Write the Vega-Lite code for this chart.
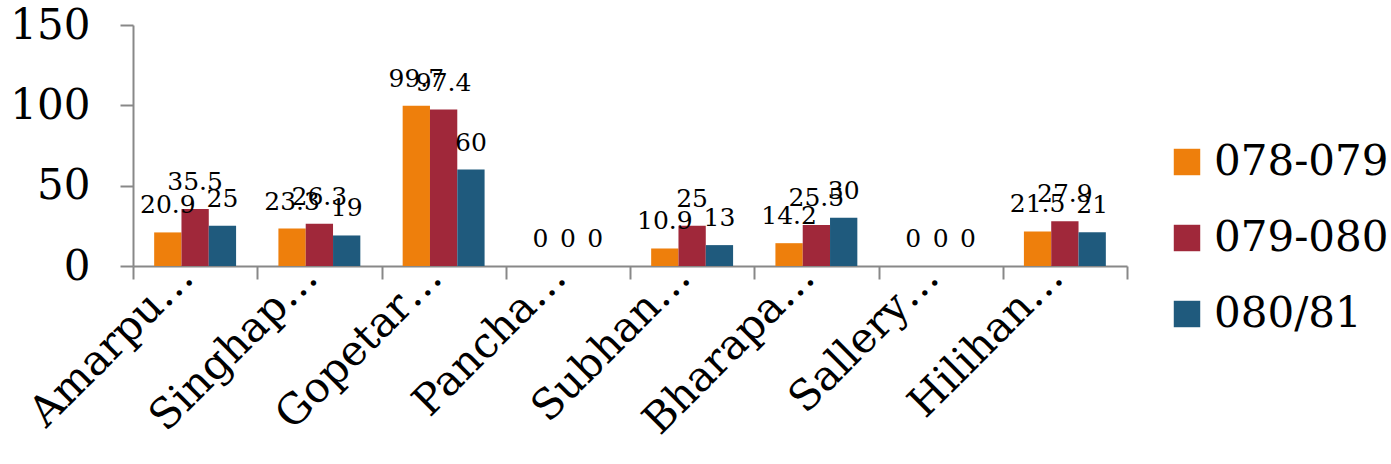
{
  "$schema": "https://vega.github.io/schema/vega-lite/v6.json",
  "autosize": "none",
  "width": 994,
  "height": 241,
  "padding": {"left": 133, "top": 25, "right": 264, "bottom": 198},
  "background": "white",
  "config": {
    "view": {"stroke": null},
    "font": "DejaVu Serif"
  },
  "data": {
    "values": [
      {"place": "Amarpu…", "year": "078-079", "value": 20.9},
      {"place": "Amarpu…", "year": "079-080", "value": 35.5},
      {"place": "Amarpu…", "year": "080/81", "value": 25},
      {"place": "Singhap…", "year": "078-079", "value": 23.3},
      {"place": "Singhap…", "year": "079-080", "value": 26.3},
      {"place": "Singhap…", "year": "080/81", "value": 19},
      {"place": "Gopetar…", "year": "078-079", "value": 99.7},
      {"place": "Gopetar…", "year": "079-080", "value": 97.4},
      {"place": "Gopetar…", "year": "080/81", "value": 60},
      {"place": "Pancha…", "year": "078-079", "value": 0},
      {"place": "Pancha…", "year": "079-080", "value": 0},
      {"place": "Pancha…", "year": "080/81", "value": 0},
      {"place": "Subhan…", "year": "078-079", "value": 10.9},
      {"place": "Subhan…", "year": "079-080", "value": 25},
      {"place": "Subhan…", "year": "080/81", "value": 13},
      {"place": "Bharapa…", "year": "078-079", "value": 14.2},
      {"place": "Bharapa…", "year": "079-080", "value": 25.5},
      {"place": "Bharapa…", "year": "080/81", "value": 30},
      {"place": "Sallery…", "year": "078-079", "value": 0},
      {"place": "Sallery…", "year": "079-080", "value": 0},
      {"place": "Sallery…", "year": "080/81", "value": 0},
      {"place": "Hilihan…", "year": "078-079", "value": 21.5},
      {"place": "Hilihan…", "year": "079-080", "value": 27.9},
      {"place": "Hilihan…", "year": "080/81", "value": 21}
    ]
  },
  "encoding": {
    "x": {
      "field": "place",
      "type": "nominal",
      "sort": null,
      "scale": {"paddingInner": 0, "paddingOuter": 0},
      "axis": {
        "title": null,
        "labelAngle": -45,
        "labelAlign": "right",
        "labelBaseline": "alphabetic",
        "labelFontSize": 42,
        "labelColor": "black",
        "labelPadding": 0,
        "labelDx": 11,
        "labelDy": 48,
        "labelLimit": 400,
        "tickBand": "extent",
        "tickSize": 13,
        "tickColor": "#888888",
        "tickWidth": 2,
        "domainColor": "#888888",
        "domainWidth": 2
      }
    },
    "xOffset": {
      "field": "year",
      "type": "nominal",
      "scale": {"paddingInner": 0, "paddingOuter": 0.775}
    },
    "y": {
      "field": "value",
      "type": "quantitative",
      "scale": {"domain": [0, 150]},
      "axis": {
        "title": null,
        "values": [0, 50, 100, 150],
        "grid": false,
        "labelFontSize": 42,
        "labelColor": "black",
        "labelPadding": 30,
        "tickSize": 13,
        "tickColor": "#888888",
        "tickWidth": 2,
        "domainColor": "#888888",
        "domainWidth": 2
      }
    }
  },
  "layer": [
    {
      "mark": {"type": "bar"},
      "encoding": {
        "color": {
          "field": "year",
          "type": "nominal",
          "scale": {"range": ["#EE7F0C", "#A0283A", "#1F5A7D"]},
          "legend": {
            "title": null,
            "orient": "none",
            "legendX": 1033,
            "legendY": 116,
            "symbolType": "square",
            "symbolSize": 700,
            "symbolStrokeWidth": 0,
            "labelFontSize": 42,
            "labelColor": "black",
            "labelOffset": 6,
            "labelLimit": 400,
            "rowPadding": 34
          }
        }
      }
    },
    {
      "mark": {"type": "text", "baseline": "alphabetic", "dy": -19, "fontSize": 25, "color": "black"},
      "encoding": {
        "text": {"field": "value", "type": "quantitative"}
      }
    }
  ]
}
